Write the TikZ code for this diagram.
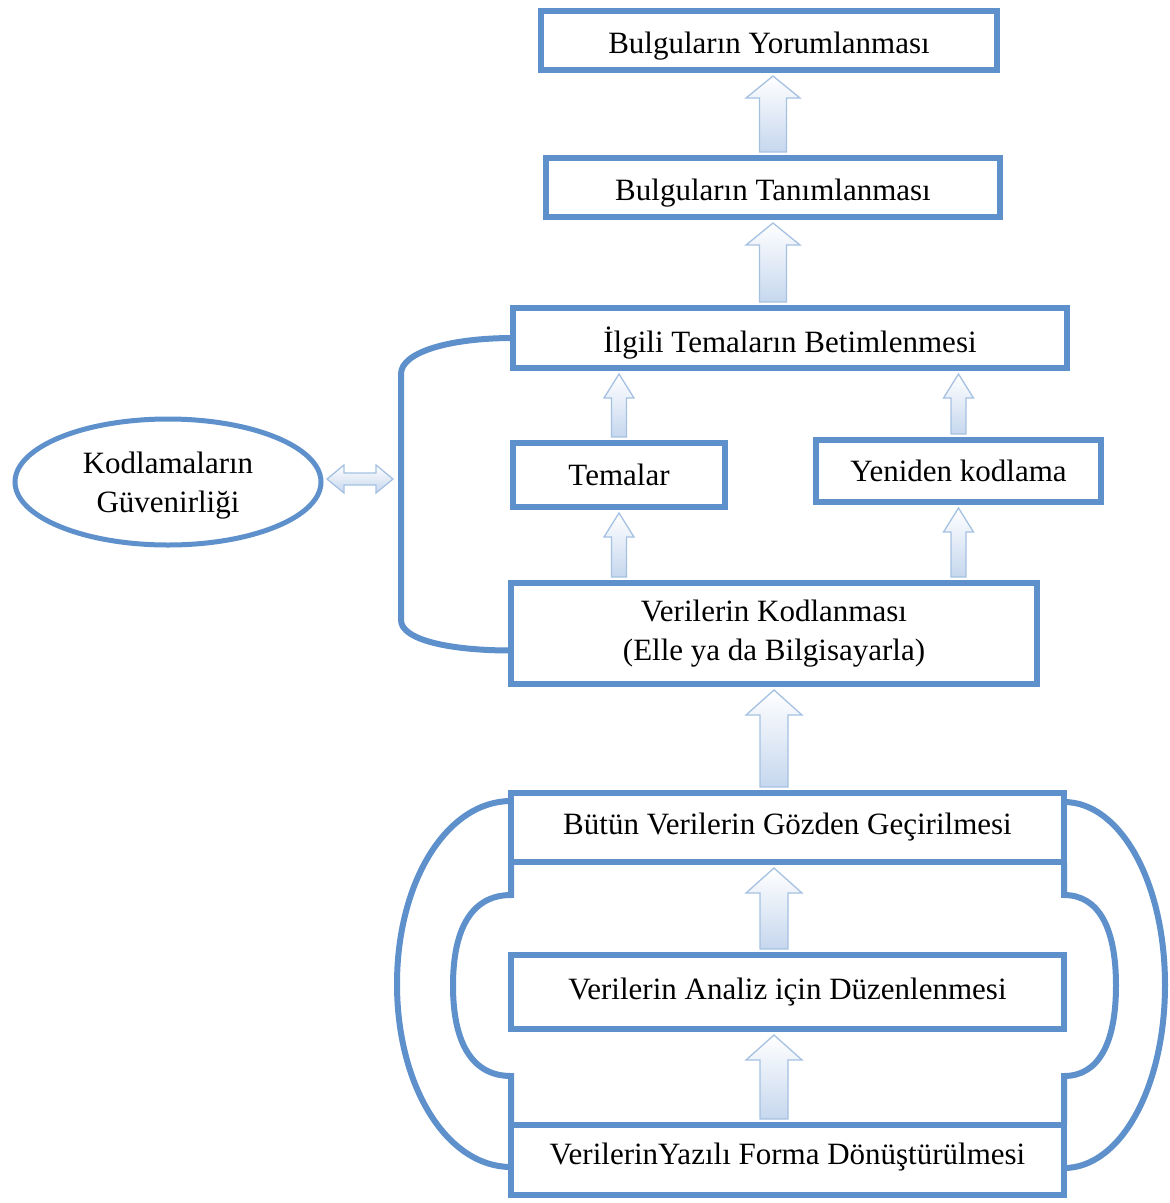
\documentclass[tikz,border=0pt]{standalone}
\usepackage{fontspec}
\setmainfont{Liberation Serif}
\usetikzlibrary{shapes.geometric,calc}
\definecolor{boxblue}{RGB}{94,145,203}
\definecolor{arrline}{RGB}{165,193,226}
\definecolor{arrfill}{RGB}{198,215,238}
\tikzset{
  stagebox/.style={draw=boxblue, line width=6pt, fill=white, rectangle,
    inner sep=0pt, outer sep=0pt, align=center, font=\fontsize{31}{39}\selectfont},
  bracket/.style={draw=boxblue, line width=6pt},
  blockarrow/.style={draw=arrline, line width=1.3pt, top color=white,
    bottom color=arrfill, line join=miter},
}
% text lowered by #1 while keeping its box size
\newcommand\lowered[2]{\raisebox{-#1}[\height][\depth]{#2}}
% upward block arrow: #1 base point, #2 tip point, #3 half shaft, #4 half head, #5 head length
\newcommand\blockup[5]{%
  \path[blockarrow] let \p1=#1, \p2=#2 in
    (\x1-#3,\y1) -- (\x1-#3,\y2-#5) -- (\x1-#4,\y2-#5) -- (\x1,\y2)
    -- (\x1+#4,\y2-#5) -- (\x1+#3,\y2-#5) -- (\x1+#3,\y1) -- cycle;}
\begin{document}
\begin{tikzpicture}[x=1pt,y=-1pt]
\useasboundingbox (0,0) rectangle (1170,1203);

% stage boxes
\node[stagebox, minimum width=456, minimum height=59] (b1) at (769,40.5) {\lowered{6pt}{Bulguların Yorumlanması}};
\node[stagebox, minimum width=454, minimum height=59] (b2) at (773,187.5) {\lowered{6pt}{Bulguların Tanımlanması}};
\node[stagebox, minimum width=554, minimum height=60] (b3) at (790,338) {\lowered{5pt}{İlgili Temaların Betimlenmesi}};
\node[stagebox, minimum width=212, minimum height=64] (b4) at (619,475) {Temalar};
\node[stagebox, minimum width=285, minimum height=62] (b5) at (958.5,471) {Yeniden kodlama};
\node[stagebox, minimum width=526, minimum height=101] (b6) at (774,633.5) {Verilerin Kodlanması\\(Elle ya da Bilgisayarla)};
\node[stagebox, minimum width=553, minimum height=69] (b7) at (787.5,827.5) {Bütün Verilerin Gözden Geçirilmesi};
\node[stagebox, minimum width=553, minimum height=74] (b8) at (787.5,992) {Verilerin Analiz için Düzenlenmesi};
\node[stagebox, minimum width=553, minimum height=70] (b9) at (787.5,1160) {\lowered{-3pt}{VerilerinYazılı Forma Dönüştürülmesi}};

% reliability ellipse
\node[ellipse, draw=boxblue, line width=5pt, fill=white, align=center,
  minimum width=306, minimum height=126, inner sep=0pt, outer sep=0pt,
  font=\fontsize{31}{39}\selectfont] (ell) at (168,482) {\lowered{4pt}{Kodlamaların}\\\lowered{4pt}{Güvenirliği}};

% bracket joining the coding stages
\draw[bracket] (b3.west) .. controls (450,338) and (401,352) .. (401,374)
  -- (401,620) .. controls (401,640) and (450,650.5) .. ([yshift=-17pt]b6.west);
\coordinate (brk) at (398,479);

% outer and inner brackets around the preparation stages
\draw[bracket] ([yshift=-8pt]b7.north west) .. controls (447,801) and (397,881.5) .. (397,984)
  .. controls (397,1086.5) and (447,1167) .. ([yshift=-7pt]b9.west);
\draw[bracket] (b7.south west) -- (511,895) .. controls (473,895) and (453,926.7) .. (453,985.5)
  .. controls (453,1044.3) and (473,1076) .. (511,1076) -- (b9.north west);
\draw[bracket] ([yshift=-9pt]b7.north east) .. controls (1120.5,802) and (1165,882.5) .. (1165,985)
  .. controls (1165,1087.5) and (1120.5,1168) .. ([yshift=-8pt]b9.east);
\draw[bracket] (b7.south east) -- (1064,895) .. controls (1098,895) and (1116,926.7) .. (1116,985.5)
  .. controls (1116,1044.3) and (1098,1076) .. (1064,1076) -- (b9.north east);

% block arrows between stages
\blockup{([yshift=6pt]b2.north)}{([yshift=-6pt]b1.south -| b2.north)}{13.5pt}{27pt}{22pt}
\blockup{([yshift=6pt]b3.north -| b2.south)}{([yshift=-6pt]b2.south)}{13.5pt}{27pt}{22pt}
\blockup{([yshift=6pt]b4.north)}{([yshift=-6pt]b3.south -| b4.north)}{7.5pt}{15pt}{24pt}
\blockup{([yshift=6pt]b5.north)}{([yshift=-6pt]b3.south -| b5.north)}{7.5pt}{15pt}{24pt}
\blockup{([yshift=6pt]b6.north -| b4.south)}{([yshift=-6pt]b4.south)}{7.5pt}{15pt}{24pt}
\blockup{([yshift=6pt]b6.north -| b5.south)}{([yshift=-6pt]b5.south)}{7.5pt}{15pt}{24pt}
\blockup{([yshift=6pt]b7.north -| b6.south)}{([yshift=-6pt]b6.south)}{14pt}{28pt}{25pt}
\blockup{([yshift=6pt]b8.north -| b6.south)}{([yshift=-6pt]b7.south -| b6.south)}{14pt}{28pt}{25pt}
\blockup{([yshift=6pt]b9.north -| b6.south)}{([yshift=-6pt]b8.south -| b6.south)}{14pt}{28pt}{25pt}

% two-way arrow between the ellipse and the bracket
\path[blockarrow] let \p1=(ell.east), \p2=(brk) in
  (\x1+6pt,\y2) -- (\x1+23pt,\y2+14pt) -- (\x1+23pt,\y2+6pt) -- (\x2-22pt,\y2+6pt)
  -- (\x2-22pt,\y2+14pt) -- (\x2-5pt,\y2) -- (\x2-22pt,\y2-14pt) -- (\x2-22pt,\y2-6pt)
  -- (\x1+23pt,\y2-6pt) -- (\x1+23pt,\y2-14pt) -- cycle;
\end{tikzpicture}
\end{document}
